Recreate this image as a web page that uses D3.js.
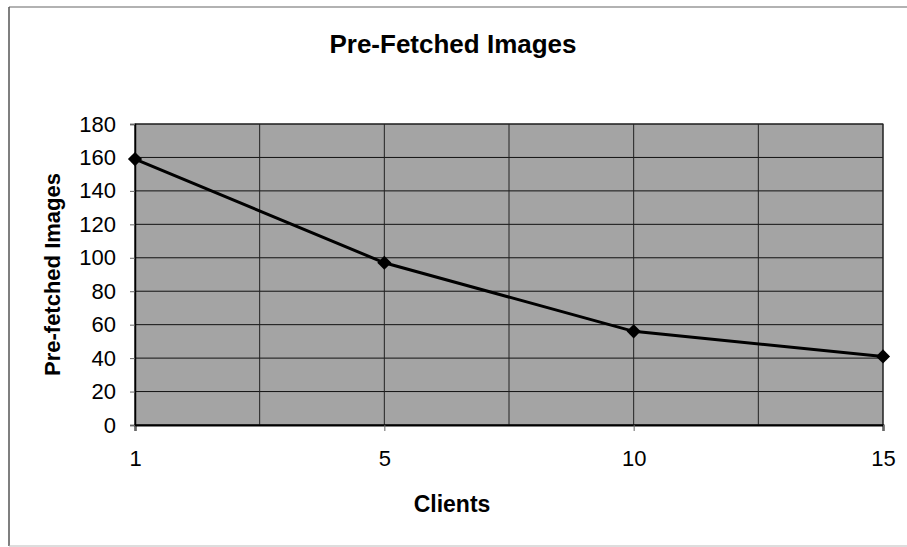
<!DOCTYPE html>
<html>
<head>
<meta charset="utf-8">
<script src="https://cdn.jsdelivr.net/npm/d3@7"></script>
<style>
  html, body { margin: 0; padding: 0; background: #fff; }
  text { font-family: Arial, 'Liberation Sans', sans-serif; }
</style>
</head>
<body>
<div id="chartCt"></div>
<script>
const clients = ["1", "5", "10", "15"];
const images = [159, 97, 56, 41];
const yTicks = [0, 20, 40, 60, 80, 100, 120, 140, 160, 180];

const width = 907, height = 547;
const margin = { top: 124, right: 24, bottom: 122, left: 135 };
const w = width - margin.left - margin.right;
const h = height - margin.top - margin.bottom;
const font = "Arial, 'Liberation Sans', sans-serif";

const root = d3.select("#chartCt").append("svg")
    .attr("width", width)
    .attr("height", height);

// chart frame
root.append("line").attr("x1", 9).attr("y1", 7).attr("x2", 907).attr("y2", 7)
    .attr("stroke", "#999").attr("stroke-width", 1.5);
root.append("line").attr("x1", 9).attr("y1", 7).attr("x2", 9).attr("y2", 546)
    .attr("stroke", "#555").attr("stroke-width", 1.5);
root.append("line").attr("x1", 9).attr("y1", 546).attr("x2", 907).attr("y2", 546)
    .attr("stroke", "#bbb").attr("stroke-width", 1);

// title
root.append("text")
    .attr("x", 453).attr("y", 53)
    .attr("text-anchor", "middle")
    .attr("font-family", font)
    .attr("font-size", 26).attr("font-weight", "bold")
    .text("Pre-Fetched Images");

const svg = root.append("g")
    .attr("transform", "translate(" + margin.left + "," + margin.top + ")");

const x = d3.scalePoint().domain(clients).range([0, w]);
const y = d3.scaleLinear().domain([0, 180]).range([h, 0]);

svg.append("rect")
    .attr("width", w).attr("height", h)
    .attr("fill", "#a4a4a4");

// horizontal gridlines
svg.selectAll(".hgrid")
    .data(yTicks)
    .enter().append("line")
    .attr("x1", 0).attr("x2", w)
    .attr("y1", d => y(d)).attr("y2", d => y(d))
    .attr("stroke", "#111").attr("stroke-width", 1);

// vertical gridlines at every half category step
const step = x.step();
const vgrid = d3.range(0, clients.length * 2 - 1).map(i => i * step / 2);
svg.selectAll(".vgrid")
    .data(vgrid)
    .enter().append("line")
    .attr("x1", d => d).attr("x2", d => d)
    .attr("y1", 0).attr("y2", h)
    .attr("stroke", "#222").attr("stroke-width", 1);

svg.append("rect")
    .attr("width", w).attr("height", h)
    .attr("fill", "none").attr("stroke", "#222").attr("stroke-width", 1);

// axes
svg.append("g")
    .attr("transform", "translate(0," + h + ")")
    .call(d3.axisBottom(x).tickSize(6).tickPadding(19))
    .attr("font-family", font).attr("font-size", 22)
    .call(g => g.select(".domain").attr("stroke", "#000").attr("stroke-width", 2))
    .call(g => g.selectAll(".tick line").attr("stroke", "#666"))
    .call(g => g.selectAll("text").attr("fill", "#000"));

svg.append("g")
    .call(d3.axisLeft(y).tickValues(yTicks).tickSize(5).tickPadding(14))
    .attr("font-family", font).attr("font-size", 22)
    .call(g => g.select(".domain").attr("stroke", "#000").attr("stroke-width", 1.5))
    .call(g => g.selectAll(".tick line").attr("stroke", "#666"))
    .call(g => g.selectAll("text").attr("fill", "#000"));

// axis titles
root.append("text")
    .attr("x", 452).attr("y", 512)
    .attr("text-anchor", "middle")
    .attr("font-family", font)
    .attr("font-size", 23).attr("font-weight", "bold")
    .text("Clients");

root.append("text")
    .attr("transform", "translate(60," + (margin.top + h / 2) + ") rotate(-90)")
    .attr("text-anchor", "middle")
    .attr("font-family", font)
    .attr("font-size", 22).attr("font-weight", "bold")
    .text("Pre-fetched Images");

// series
const pts = clients.map((c, i) => ({ c: c, v: images[i] }));
svg.append("path")
    .datum(pts)
    .attr("fill", "none")
    .attr("stroke", "#000")
    .attr("stroke-width", 3)
    .attr("d", d3.line().x(d => x(d.c)).y(d => y(d.v)));

svg.selectAll(".marker")
    .data(pts)
    .enter().append("path")
    .attr("transform", d => "translate(" + x(d.c) + "," + y(d.v) + ") rotate(45)")
    .attr("d", d3.symbol().type(d3.symbolSquare).size(100))
    .attr("fill", "#000");
</script>
</body>
</html>
